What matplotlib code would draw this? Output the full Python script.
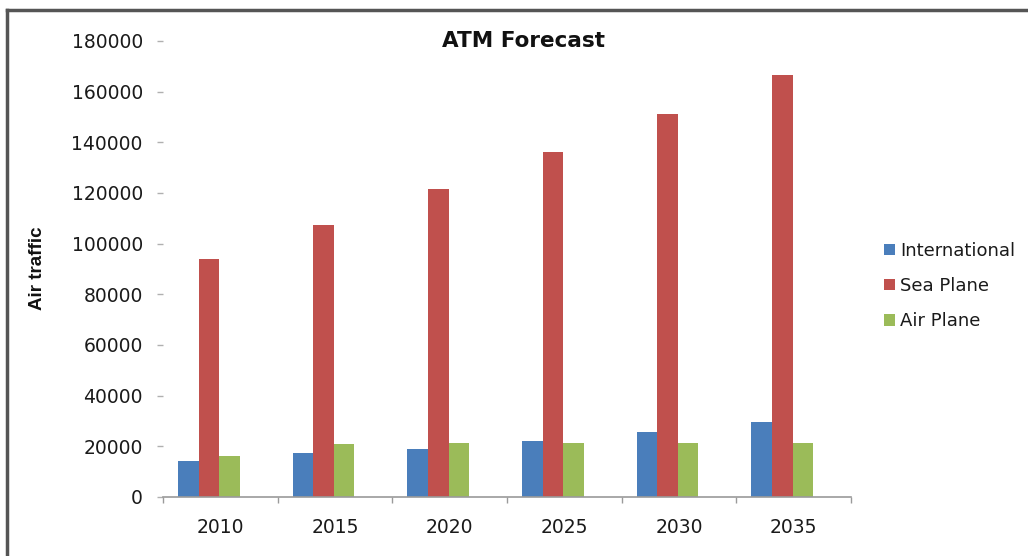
import numpy as np
import matplotlib
matplotlib.use("Agg")
import matplotlib.pyplot as plt
from matplotlib.lines import Line2D


# =========================================================
# Data
# =========================================================

YEARS = ["2010", "2015", "2020", "2025", "2030", "2035"]

INTERNATIONAL = [14200, 17200, 19000, 22100, 25800, 29500]
SEA_PLANE = [94000, 107500, 121500, 136000, 151000, 166500]
AIR_PLANE = [16300, 20900, 21400, 21400, 21400, 21400]

SERIES = ["International", "Sea Plane", "Air Plane"]
COLORS = ["#4a7ebb", "#c0504d", "#9bbb59"]


# =========================================================
# Figure
# =========================================================

W, H, DPI = 1028, 556, 100
fig = plt.figure(figsize=(W / DPI, H / DPI), dpi=DPI)

ax = fig.add_axes([163 / W, 1 - 497 / H, (851 - 163) / W, (497 - 41) / H])

x = np.arange(len(YEARS))
bw = 0.18
for k, (vals, name, col) in enumerate(zip([INTERNATIONAL, SEA_PLANE, AIR_PLANE], SERIES, COLORS)):
    ax.bar(x + (k - 1) * bw, vals, width=bw, color=col, label=name, linewidth=0)

ax.set_xlim(-0.4, len(YEARS) - 0.4)
ax.set_ylim(0, 180000)
ax.set_yticks(np.arange(0, 180001, 20000))

# category labels sit a little right of the bar groups
label_shift = 0.1
ax.set_xticks(x + label_shift)
ax.set_xticklabels(YEARS)
ax.set_xticks(np.arange(len(YEARS) + 1) - 0.4, minor=True)

for s in ["top", "right", "left"]:
    ax.spines[s].set_visible(False)
ax.spines["bottom"].set_color("#9a9a9a")
ax.spines["bottom"].set_linewidth(1.2)

ax.tick_params(axis="x", which="major", length=0, pad=15, labelcolor="#1a1a1a")
ax.tick_params(axis="x", which="minor", length=4, width=1, color="#9a9a9a", direction="out")
ax.tick_params(axis="y", length=4.5, width=1, color="#b0b0b0", pad=10, labelcolor="#1a1a1a")
for lab in ax.get_xticklabels() + ax.get_yticklabels():
    lab.set_fontfamily("DejaVu Sans")
    lab.set_fontsize(13.5)

# title and axis label
fig.text(524 / W, 1 - 41 / H, "ATM Forecast", ha="center", va="center",
         fontsize=15.5, fontweight="bold", family="DejaVu Sans", color="#111111")
fig.text(37 / W, 1 - 268 / H, "Air traffic", ha="center", va="center", rotation=90,
         fontsize=13.5, fontweight="bold", family="Liberation Sans", color="#111111")

# legend
leg = fig.legend(loc="center left", bbox_to_anchor=(884 / W, 1 - 286 / H),
                 frameon=False, borderpad=0, borderaxespad=0,
                 handlelength=0.6, handleheight=0.6, handletextpad=0.3,
                 labelspacing=0.95, prop={"family": "DejaVu Sans", "size": 13})
for t in leg.get_texts():
    t.set_color("#1a1a1a")

# outer frame (top and left edges)
fig.add_artist(Line2D([7 / W, 1], [1 - 10 / H, 1 - 10 / H], transform=fig.transFigure,
                      color="#555555", linewidth=2.5))
fig.add_artist(Line2D([7 / W, 7 / W], [0, 1 - 10 / H], transform=fig.transFigure,
                      color="#555555", linewidth=2.5))

fig.savefig("out.png", dpi=DPI)
